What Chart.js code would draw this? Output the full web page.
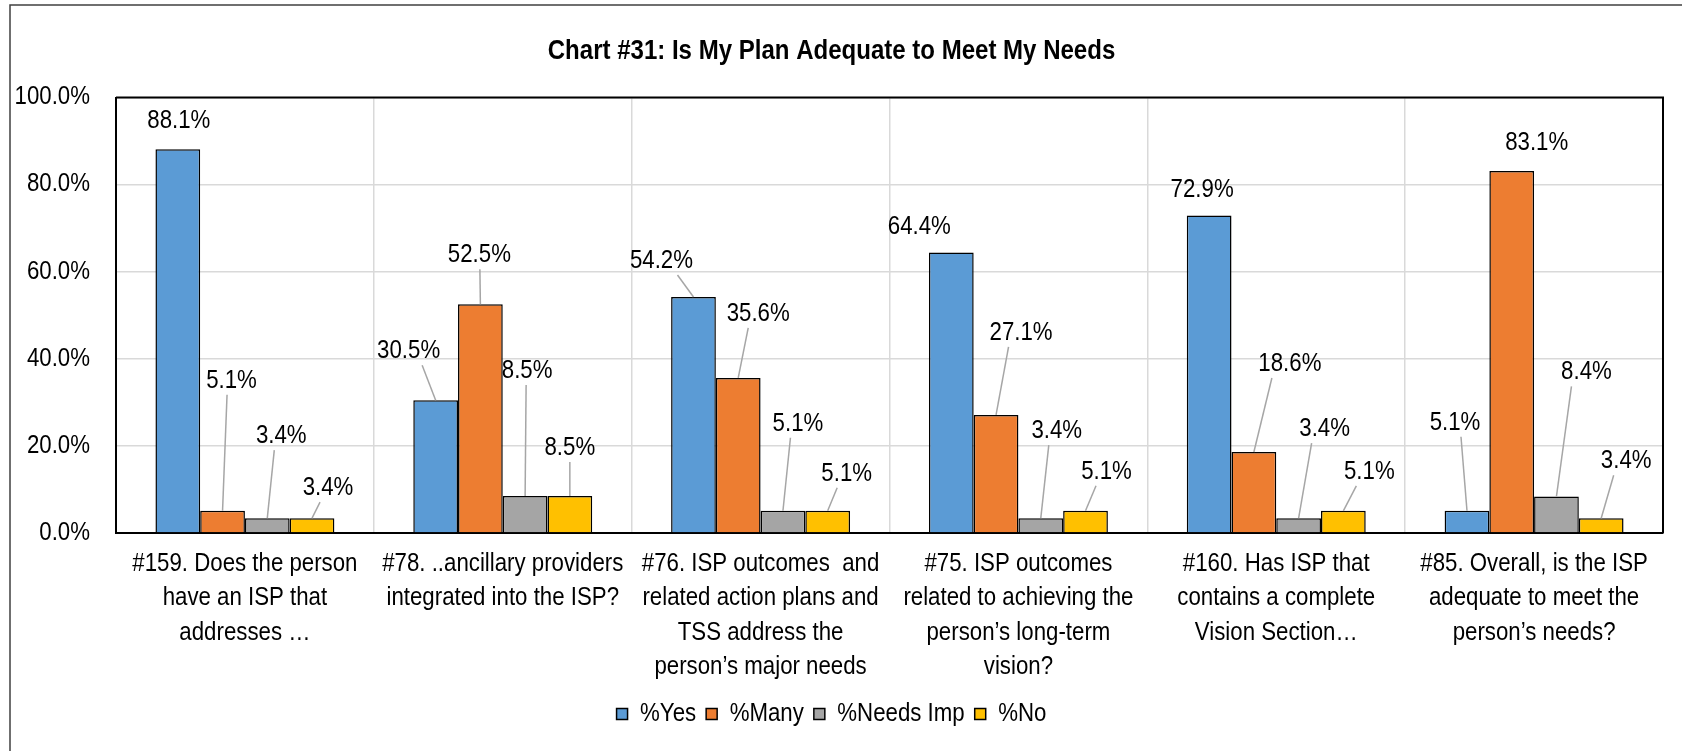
<!DOCTYPE html>
<html><head><meta charset="utf-8">
<script src="https://cdn.jsdelivr.net/npm/chart.js@4/dist/chart.umd.min.js"></script>
<style>html,body{margin:0;padding:0;background:#fff;overflow:hidden}#wrap{width:1682px;height:751px;position:relative}</style>
</head><body><div id="wrap"><canvas id="c" width="1682" height="751"></canvas></div>
<script>
const categories = [
  ['#159. Does the person', 'have an ISP that', 'addresses …'],
  ['#78. ..ancillary providers', 'integrated into the ISP?'],
  ['#76. ISP outcomes  and', 'related action plans and', 'TSS address the', 'person’s major needs'],
  ['#75. ISP outcomes', 'related to achieving the', 'person’s long-term', 'vision?'],
  ['#160. Has ISP that', 'contains a complete', 'Vision Section…'],
  ['#85. Overall, is the ISP', 'adequate to meet the', 'person’s needs?']
];
const seriesNames = ['%Yes', '%Many', '%Needs Imp', '%No'];
const yesValues = [88.1, 30.5, 54.2, 64.4, 72.9, 5.1];
const manyValues = [5.1, 52.5, 35.6, 27.1, 18.6, 83.1];
const needsImpValues = [3.4, 8.5, 5.1, 3.4, 3.4, 8.4];
const noValues = [3.4, 8.5, 5.1, 5.1, 5.1, 3.4];
const yTickValues = [0, 20, 40, 60, 80, 100];
const titleText = 'Chart #31: Is My Plan Adequate to Meet My Needs';

// label layout: [dx, dy, leader] in px relative to the bar's top centre
const labelLayoutYes = [[1,-28,0],[-27,-49,1],[-32,-36,1],[-32,-25,0],[-7,-25,0],[-12,-88,1]];
const labelLayoutMany = [[9,-130,1],[-1,-49,1],[20,-64,1],[25,-82,1],[36,-88,1],[25,-28,0]];
const labelLayoutNeeds = [[14,-82,1],[2,-125,1],[15,-87,1],[16,-87,1],[26,-89,1],[30,-124,1]];
const labelLayoutNo = [[16,-30,1],[0,-48,1],[19,-37,1],[21,-39,1],[26,-39,1],[25,-57,1]];

// condensed text rendering (the reference uses a narrow face)
const SX = 0.89;
(function () {
  const P = CanvasRenderingContext2D.prototype;
  const of = P.fillText, om = P.measureText;
  P.fillText = function (t, x, y, m) {
    this.save(); this.translate(x, y); this.scale(SX, 1);
    of.call(this, t, 0, 0); this.restore();
  };
  P.measureText = function (t) {
    const r = om.call(this, t);
    return {width: r.width * SX,
      actualBoundingBoxAscent: r.actualBoundingBoxAscent,
      actualBoundingBoxDescent: r.actualBoundingBoxDescent,
      actualBoundingBoxLeft: r.actualBoundingBoxLeft * SX,
      actualBoundingBoxRight: r.actualBoundingBoxRight * SX,
      fontBoundingBoxAscent: r.fontBoundingBoxAscent,
      fontBoundingBoxDescent: r.fontBoundingBoxDescent};
  };
})();

const F = "'Liberation Sans', Arial, sans-serif";
const FS = 25;
const colors = ['#5B9BD5', '#ED7D31', '#A5A5A5', '#FFC000'];
const seriesValues = [yesValues, manyValues, needsImpValues, noValues];
const layouts = [labelLayoutYes, labelLayoutMany, labelLayoutNeeds, labelLayoutNo];

const labelPlugin = {
  id: 'labels',
  afterDatasetsDraw(chart) {
    const ctx = chart.ctx;
    ctx.save();
    ctx.font = FS + 'px ' + F;
    ctx.textAlign = 'center';
    ctx.textBaseline = 'middle';
    chart.data.datasets.forEach((ds, i) => {
      const meta = chart.getDatasetMeta(i);
      meta.data.forEach((bar, j) => {
        const [dx, dy, leader] = layouts[i][j];
        const lx = bar.x + dx, ly = bar.y + dy;
        const txt = ds.data[j].toFixed(1) + '%';
        const hw = ctx.measureText(txt).width / 2 + 3;
        if (leader) {
          const off = Math.max(-hw, Math.min(hw, (bar.x - lx) * 0.5));
          ctx.beginPath();
          ctx.strokeStyle = '#a6a6a6';
          ctx.lineWidth = 1.5;
          ctx.moveTo(lx + off, ly + 14);
          ctx.lineTo(bar.x, bar.y);
          ctx.stroke();
        }
        ctx.fillStyle = '#000';
        ctx.fillText(txt, lx, ly);
      });
    });
    ctx.restore();
  }
};

const framePlugin = {
  id: 'frame',
  afterDraw(chart) {
    const {ctx, chartArea: a} = chart;
    ctx.save();
    ctx.strokeStyle = '#000';
    ctx.lineWidth = 2;
    ctx.beginPath();
    ctx.moveTo(a.left, a.top); ctx.lineTo(a.right, a.top); ctx.lineTo(a.right, a.bottom);
    ctx.stroke();
    ctx.strokeStyle = '#404040';
    ctx.lineWidth = 1.5;
    ctx.beginPath();
    ctx.moveTo(10, 760); ctx.lineTo(10, 5); ctx.lineTo(1690, 5);
    ctx.stroke();
    ctx.restore();
  }
};

new Chart(document.getElementById('c'), {
  type: 'bar',
  data: {
    labels: categories,
    datasets: seriesNames.map((n, i) => ({
      label: n,
      data: seriesValues[i],
      backgroundColor: colors[i],
      borderColor: '#000',
      borderWidth: 1.5,
      categoryPercentage: 0.694,
      barPercentage: 1.0
    }))
  },
  options: {
    responsive: false,
    animation: false,
    layout: {padding: {left: 0, right: 19, top: 0, bottom: 14.5}},
    plugins: {
      title: {display: true, text: titleText, color: '#000',
        font: {family: F, size: 27, weight: 'bold'}, padding: {top: 35, bottom: 30.1}},
      legend: {position: 'bottom', labels: {font: {family: F, size: FS}, color: '#000', boxWidth: 11, boxHeight: 11, padding: 10}},
      tooltip: {enabled: false}
    },
    scales: {
      x: {
        grid: {color: '#d9d9d9', lineWidth: 1.5, drawTicks: false},
        border: {display: true, color: '#000', width: 2},
        ticks: {font: {family: F, size: FS, lineHeight: 1.372}, color: '#000', padding: 14, maxRotation: 0, autoSkip: false},
        afterFit(s) { s.height = 158.5; s.paddingLeft = 0; s.paddingRight = 0; }
      },
      y: {
        min: 0, max: 100,
        afterBuildTicks(s) { s.ticks = yTickValues.map(v => ({value: v})); },
        ticks: {callback: v => v.toFixed(1) + '%', font: {family: F, size: FS}, color: '#000', padding: 26},
        grid: {color: '#d9d9d9', lineWidth: 1.5, drawTicks: false},
        border: {color: '#000', width: 2},
        afterFit(s) { s.width = 116; }
      }
    }
  },
  plugins: [labelPlugin, framePlugin]
});
</script>
</body></html>
